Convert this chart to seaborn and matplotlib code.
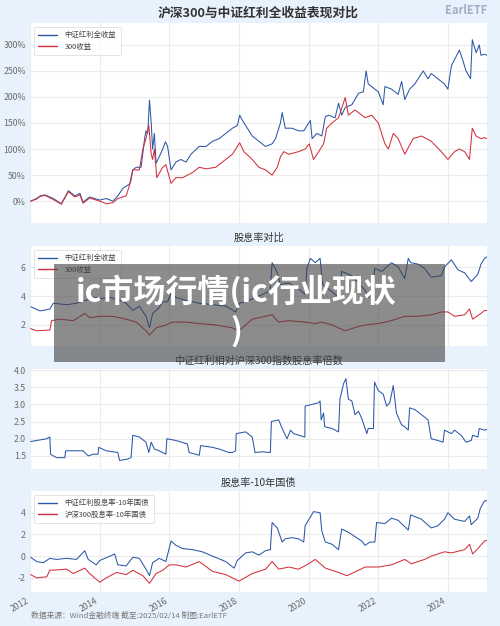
import numpy as np
import pandas as pd
import matplotlib
matplotlib.use("Agg")
import matplotlib.pyplot as plt
import matplotlib.dates as mdates
from matplotlib.ticker import FuncFormatter, FixedLocator
import seaborn as sns

# ---------------- data (decimal years) ----------------
# Panel 1: cumulative return (%)
t_tr_div = [2012.02, 2012.19, 2012.29, 2012.43, 2012.67, 2012.90, 2013.10, 2013.29, 2013.43, 2013.52,
            2013.71, 2014.00, 2014.19, 2014.38, 2014.52, 2014.67, 2014.86, 2014.95, 2015.05, 2015.19,
            2015.29, 2015.33, 2015.38, 2015.43, 2015.48, 2015.52, 2015.57, 2015.62, 2015.71, 2015.81,
            2015.89, 2015.95, 2016.05, 2016.19, 2016.33, 2016.48, 2016.62, 2016.86, 2017.05, 2017.24,
            2017.43, 2017.62, 2017.81, 2017.95, 2018.02, 2018.10, 2018.24, 2018.38, 2018.57, 2018.76,
            2018.95, 2019.05, 2019.19, 2019.24, 2019.33, 2019.52, 2019.71, 2019.86, 2020.05, 2020.10,
            2020.24, 2020.38, 2020.48, 2020.57, 2020.76, 2020.86, 2020.95, 2021.05, 2021.24, 2021.43,
            2021.57, 2021.65, 2021.71, 2021.90, 2022.00, 2022.14, 2022.19, 2022.38, 2022.57, 2022.67,
            2022.76, 2022.90, 2023.05, 2023.29, 2023.43, 2023.52, 2023.71, 2023.90, 2024.00, 2024.10,
            2024.33, 2024.43, 2024.52, 2024.65, 2024.70, 2024.81, 2024.90, 2024.95, 2025.05, 2025.12]
v_tr_div = [0, 5, 10, 12, 5, -5, 20, 10, 15, -2,
            8, 2, 5, 0, 10, 25, 33, 60, 65, 65,
            120, 135, 130, 194, 150, 100, 130, 73, 85, 100,
            114, 105, 60, 75, 80, 75, 90, 105, 105, 115,
            120, 130, 140, 145, 165, 155, 140, 125, 115, 105,
            110, 120, 150, 170, 140, 140, 135, 135, 155, 120,
            130, 125, 162, 165, 160, 188, 165, 180, 185, 207,
            210, 250, 225, 215, 210, 185, 220, 215, 205, 230,
            195, 215, 225, 250, 235, 245, 235, 225, 215, 260,
            290, 270, 250, 235, 310, 285, 300, 280, 282, 280]

t_tr_300 = [2012.02, 2012.19, 2012.29, 2012.43, 2012.67, 2012.90, 2013.10, 2013.29, 2013.43, 2013.52,
            2013.71, 2014.00, 2014.19, 2014.38, 2014.52, 2014.76, 2014.90, 2014.95, 2015.14, 2015.24,
            2015.33, 2015.41, 2015.48, 2015.52, 2015.57, 2015.64, 2015.81, 2015.90, 2016.05, 2016.19,
            2016.38, 2016.67, 2016.86, 2017.05, 2017.33, 2017.62, 2017.81, 2018.02, 2018.14, 2018.38,
            2018.57, 2018.76, 2018.95, 2019.10, 2019.19, 2019.29, 2019.43, 2019.71, 2019.90, 2020.02,
            2020.14, 2020.29, 2020.43, 2020.52, 2020.67, 2020.86, 2021.05, 2021.14, 2021.33, 2021.43,
            2021.62, 2021.81, 2022.00, 2022.19, 2022.29, 2022.43, 2022.57, 2022.76, 2023.00, 2023.24,
            2023.52, 2023.81, 2024.00, 2024.19, 2024.33, 2024.48, 2024.62, 2024.70, 2024.81, 2024.95,
            2025.05, 2025.12]
v_tr_300 = [0, 4, 9, 11, 3, -6, 18, 8, 12, -4,
            6, 0, -5, -3, 5, 10, 40, 60, 60, 100,
            120, 146, 90, 80, 100, 45, 65, 70, 34, 45,
            45, 55, 65, 62, 65, 80, 90, 112, 95, 80,
            65, 60, 50, 65, 85, 95, 90, 95, 100, 110,
            80, 95, 110, 140, 150, 160, 199, 165, 175, 170,
            160, 165, 150, 110, 100, 130, 120, 90, 120, 125,
            115, 95, 80, 95, 100, 95, 80, 140, 125, 120,
            122, 120]

# Panel 2: dividend yield (%)
t_dy_div = [2012.02, 2012.29, 2012.57, 2012.67, 2013.05, 2013.33, 2013.62, 2013.90, 2014.00, 2014.29,
            2014.57, 2014.76, 2014.95, 2015.14, 2015.33, 2015.43, 2015.52, 2015.71, 2015.81, 2015.95,
            2016.05, 2016.19, 2016.48, 2016.86, 2017.24, 2017.62, 2017.90, 2018.02, 2018.29, 2018.57,
            2018.76, 2018.90, 2018.95, 2019.10, 2019.19, 2019.43, 2019.71, 2019.90, 2019.95, 2020.05,
            2020.19, 2020.33, 2020.40, 2020.67, 2020.86, 2020.95, 2021.24, 2021.43, 2021.62, 2021.71,
            2021.81, 2021.90, 2022.10, 2022.38, 2022.57, 2022.76, 2022.86, 2022.93, 2023.14, 2023.33,
            2023.52, 2023.81, 2023.90, 2024.10, 2024.29, 2024.48, 2024.67, 2024.86, 2024.95, 2025.05,
            2025.12]
v_dy_div = [3.26, 2.97, 3.1, 3.5, 3.4, 3.5, 3.72, 3.9, 3.8, 3.9,
            3.7, 3.5, 3.0, 3.3, 2.6, 1.8, 2.8, 3.2, 3.6, 3.6,
            4.2, 3.9, 3.7, 3.5, 3.4, 3.3, 2.9, 3.5, 3.7, 4.0,
            4.2, 4.4, 6.3, 5.6, 4.8, 4.9, 4.5, 4.1, 5.9, 6.6,
            6.3, 6.6, 4.8, 4.3, 3.9, 5.7, 5.4, 4.9, 4.4, 3.9,
            4.2, 5.9, 5.7, 6.3, 6.0, 5.2, 6.6, 6.3, 6.2, 5.9,
            5.3, 5.4, 6.0, 6.5, 5.8, 5.6, 5.0, 5.5, 6.2, 6.6,
            6.7]

t_dy_300 = [2012.02, 2012.19, 2012.57, 2012.62, 2012.86, 2013.24, 2013.57, 2013.71, 2014.00, 2014.38,
            2014.76, 2015.05, 2015.33, 2015.43, 2015.62, 2015.90, 2016.10, 2016.48, 2016.86, 2017.33,
            2017.81, 2018.00, 2018.38, 2018.76, 2018.95, 2019.14, 2019.43, 2019.90, 2020.19, 2020.38,
            2020.67, 2021.05, 2021.43, 2021.62, 2022.00, 2022.38, 2022.76, 2023.14, 2023.52, 2023.81,
            2024.00, 2024.19, 2024.48, 2024.62, 2024.71, 2024.95, 2025.05, 2025.12]
v_dy_300 = [1.75, 1.6, 1.65, 2.3, 2.4, 2.3, 2.8, 2.5, 2.6, 2.6,
            2.4, 2.2, 1.6, 1.3, 1.8, 2.0, 2.2, 2.2, 2.1, 2.0,
            1.8, 1.6, 2.4, 2.6, 2.7, 2.2, 2.3, 2.2, 2.1, 2.2,
            2.0, 1.6, 1.9, 2.0, 2.1, 2.3, 2.6, 2.6, 2.7, 2.9,
            2.9, 2.6, 2.7, 3.1, 2.4, 2.8, 3.0, 3.0]

# Panel 3: relative dividend yield multiple
t_ratio = [2012.02, 2012.48, 2012.57, 2012.59, 2012.76, 2013.00, 2013.02, 2013.24, 2013.52, 2013.67,
           2013.81, 2013.95, 2013.97, 2014.19, 2014.52, 2014.57, 2014.76, 2014.90, 2014.95, 2015.14,
           2015.33, 2015.41, 2015.48, 2015.57, 2015.71, 2015.90, 2015.93, 2016.19, 2016.52, 2016.57,
           2016.86, 2016.90, 2017.24, 2017.43, 2017.71, 2017.81, 2017.90, 2017.92, 2018.19, 2018.38,
           2018.46, 2018.67, 2018.90, 2018.93, 2019.14, 2019.24, 2019.38, 2019.48, 2019.57, 2019.89,
           2019.90, 2020.10, 2020.29, 2020.33, 2020.36, 2020.43, 2020.46, 2020.67, 2020.86, 2020.90,
           2021.00, 2021.07, 2021.14, 2021.24, 2021.33, 2021.43, 2021.52, 2021.62, 2021.67, 2021.71,
           2021.86, 2021.89, 2022.00, 2022.14, 2022.24, 2022.33, 2022.43, 2022.48, 2022.52, 2022.67,
           2022.76, 2022.86, 2022.90, 2023.05, 2023.24, 2023.43, 2023.52, 2023.71, 2023.86, 2023.90,
           2024.10, 2024.19, 2024.38, 2024.52, 2024.67, 2024.71, 2024.86, 2024.90, 2025.05, 2025.12]
v_ratio = [1.92, 2.0, 2.05, 1.55, 1.45, 1.45, 1.65, 1.65, 1.65, 1.5,
           1.55, 1.55, 1.75, 1.65, 1.6, 1.37, 1.4, 1.45, 2.1, 2.05,
           1.9, 1.6, 1.9, 1.7, 1.65, 1.55, 2.0, 1.95, 1.85, 1.6,
           1.52, 1.8, 1.75, 1.7, 1.6, 1.6, 1.65, 2.15, 2.2, 2.05,
           1.6, 1.62, 1.6, 2.5, 2.55, 2.3, 2.0, 2.25, 2.15, 2.05,
           2.95, 3.0, 3.05, 3.1, 2.55, 2.75, 2.35, 2.3, 2.2, 3.15,
           3.6, 3.75, 3.15, 3.1, 2.7, 2.8, 2.6, 2.3, 2.15, 2.3,
           2.3, 3.65, 3.4, 3.3, 2.95, 3.05, 3.55, 3.1, 2.75, 2.4,
           2.35, 2.25, 2.9, 2.85, 2.7, 2.55, 2.0, 1.95, 1.9, 2.25,
           2.15, 2.25, 2.1, 1.9, 1.95, 2.1, 2.05, 2.3, 2.25, 2.27]

# Panel 4: dividend yield minus 10y government bond yield
t_sp_div = [2012.02, 2012.19, 2012.38, 2012.57, 2012.76, 2013.05, 2013.33, 2013.57, 2013.67, 2013.90,
            2014.00, 2014.29, 2014.43, 2014.52, 2014.76, 2014.95, 2015.14, 2015.33, 2015.43, 2015.52,
            2015.71, 2015.90, 2016.05, 2016.19, 2016.38, 2016.67, 2016.95, 2017.24, 2017.62, 2017.86,
            2017.95, 2018.19, 2018.38, 2018.57, 2018.76, 2018.90, 2018.95, 2019.10, 2019.24, 2019.33,
            2019.52, 2019.71, 2019.86, 2019.90, 2020.05, 2020.14, 2020.33, 2020.38, 2020.48, 2020.67,
            2020.86, 2020.95, 2021.14, 2021.33, 2021.52, 2021.62, 2021.76, 2021.90, 2021.95, 2022.19,
            2022.38, 2022.57, 2022.86, 2022.93, 2023.24, 2023.52, 2023.71, 2023.90, 2024.00, 2024.19,
            2024.48, 2024.62, 2024.67, 2024.86, 2024.93, 2025.05, 2025.12]
v_sp_div = [-0.1, -0.5, -0.6, -0.2, -0.3, -0.2, -0.3, 0.5, -0.3, -0.8,
            -0.4, 0.0, 0.2, -0.8, -0.9, -0.1, -0.2, -1.2, -1.8, -0.6,
            -0.2, -0.5, 1.4, 1.0, 0.7, 0.6, 0.4, 0.0, -0.5, -1.1,
            -0.4, 0.3, 0.4, 0.1, 0.5, 0.6, 3.1, 2.6, 1.3, 1.6,
            1.7, 1.6, 1.3, 2.8, 3.6, 4.1, 4.0, 2.3, 1.3, 1.1,
            0.6, 2.5, 2.2, 1.8, 1.4, 1.0, 1.3, 1.3, 3.1, 3.0,
            3.5, 3.3, 2.4, 3.8, 3.4, 2.6, 2.8, 3.4, 4.0, 3.4,
            3.2, 3.7, 2.9, 3.5, 4.4, 5.1, 5.1]

t_sp_300 = [2012.02, 2012.19, 2012.48, 2012.57, 2013.05, 2013.24, 2013.57, 2013.71, 2014.00, 2014.19,
            2014.48, 2014.76, 2014.95, 2015.24, 2015.43, 2015.62, 2015.81, 2016.00, 2016.19, 2016.48,
            2016.86, 2017.24, 2017.62, 2018.00, 2018.38, 2018.76, 2018.95, 2019.14, 2019.43, 2019.71,
            2020.00, 2020.19, 2020.48, 2020.86, 2021.10, 2021.43, 2021.62, 2022.00, 2022.38, 2022.76,
            2022.95, 2023.33, 2023.52, 2023.90, 2024.10, 2024.48, 2024.62, 2024.71, 2024.86, 2025.05,
            2025.12]
v_sp_300 = [-1.7, -2.0, -1.9, -1.3, -1.2, -1.6, -1.1, -1.6, -2.4, -2.0,
            -1.5, -1.7, -1.3, -1.8, -2.5, -1.6, -1.3, -0.8, -0.8, -1.0,
            -0.5, -1.4, -1.7, -2.3, -1.6, -1.2, -0.5, -1.2, -1.0, -1.2,
            -0.7, -0.3, -1.1, -1.5, -1.8, -1.3, -1.0, -1.0, -0.8, -0.3,
            -0.7, -0.3, 0.0, 0.4, 0.3, 0.6, 1.1, 0.2, 0.7, 1.4,
            1.45]

# labels
main_title = "沪深300与中证红利全收益表现对比"
titles = [None, "股息率对比", "中证红利相对沪深300指数股息率倍数", "股息率-10年国债"]
labels_p1 = ["中证红利全收益", "300收益"]
labels_p2 = ["中证红利全收益", "300收益"]
labels_p4 = ["中证红利股息率-10年国债", "沪深300股息率-10年国债"]
year_ticks = [2012, 2014, 2016, 2018, 2020, 2022, 2024]
footer = "数据来源：Wind金融终端 截至:2025/02/14 制图:EarlETF"
watermark = "ic市场行情(ic行业现状\n)"
logo_text = "EarlETF"
x_start, x_end = "2012-01-01", "2025-02-14"


def to_dates(years):
    years = np.asarray(years, dtype=float)
    base = pd.to_datetime([f"{int(np.floor(y))}-01-01" for y in years])
    return base + pd.to_timedelta((years - np.floor(years)) * 365.25, unit="D")


def frame(t, v, label):
    return pd.DataFrame({"date": to_dates(t), "value": v, "series": label})


# ---------------- style ----------------
sns.set_theme(style="whitegrid")
plt.rcParams["font.family"] = ["Noto Sans CJK SC", "DejaVu Sans"]
plt.rcParams["axes.unicode_minus"] = False

BG = "#e8f2fc"
BLUE = "#2b57a7"
RED = "#d3303b"
GRID = "#ececec"
TICK = "#6b6b6b"

fig = plt.figure(figsize=(5.0, 6.26), dpi=100, facecolor=BG)

W, H = 500, 626
def ax_rect(left, top, right, bottom):
    return [left / W, 1 - bottom / H, (right - left) / W, (bottom - top) / H]

ax1 = fig.add_axes(ax_rect(30, 23, 487, 223))
ax2 = fig.add_axes(ax_rect(30, 246, 487, 346), sharex=ax1)
ax3 = fig.add_axes(ax_rect(30, 369, 487, 469), sharex=ax1)
ax4 = fig.add_axes(ax_rect(30, 491, 487, 592), sharex=ax1)
axes = [ax1, ax2, ax3, ax4]

lw = 0.75
d1 = pd.concat([frame(t_tr_div, v_tr_div, labels_p1[0]), frame(t_tr_300, v_tr_300, labels_p1[1])])
sns.lineplot(data=d1, x="date", y="value", hue="series", palette=[BLUE, RED], lw=lw, ax=ax1)
d2 = pd.concat([frame(t_dy_div, v_dy_div, labels_p2[0]), frame(t_dy_300, v_dy_300, labels_p2[1])])
sns.lineplot(data=d2, x="date", y="value", hue="series", palette=[BLUE, RED], lw=lw, ax=ax2)
d3 = frame(t_ratio, v_ratio, "ratio")
sns.lineplot(data=d3, x="date", y="value", color=BLUE, lw=lw, ax=ax3)
d4 = pd.concat([frame(t_sp_div, v_sp_div, labels_p4[0]), frame(t_sp_300, v_sp_300, labels_p4[1])])
sns.lineplot(data=d4, x="date", y="value", hue="series", palette=[BLUE, RED], lw=lw, ax=ax4)

ax1.set_ylim(-42, 342)
ax1.yaxis.set_major_locator(FixedLocator([0, 50, 100, 150, 200, 250, 300]))
ax1.yaxis.set_major_formatter(FuncFormatter(lambda v, p: f"{v:.0f}%"))
ax2.set_ylim(0.55, 7.45)
ax2.yaxis.set_major_locator(FixedLocator([2, 4, 6]))
ax3.set_ylim(1.12, 4.03)
ax3.yaxis.set_major_locator(FixedLocator([1.5, 2.0, 2.5, 3.0, 3.5, 4.0]))
ax3.yaxis.set_major_formatter(FuncFormatter(lambda v, p: f"{v:.1f}"))
ax4.set_ylim(-3.3, 6.0)
ax4.yaxis.set_major_locator(FixedLocator([-2, 0, 2, 4]))

ax1.set_xlim(pd.Timestamp(x_start), pd.Timestamp(x_end))
ax4.xaxis.set_major_locator(FixedLocator([mdates.date2num(pd.Timestamp(f"{y}-01-01")) for y in year_ticks]))
ax4.xaxis.set_major_formatter(mdates.DateFormatter("%Y"))

for i, ax in enumerate(axes):
    ax.set_facecolor("white")
    for s in ax.spines.values():
        s.set_visible(False)
    ax.grid(True, color=GRID, lw=0.8)
    ax.set_xlabel("")
    ax.set_ylabel("")
    ax.tick_params(axis="both", labelsize=6.3, colors=TICK, length=0, pad=3)
    if i < 3:
        ax.tick_params(axis="x", labelbottom=False)
    if titles[i]:
        ax.set_title(titles[i], fontsize=7.3, color="#333333", pad=4)

for lab in ax4.get_xticklabels():
    lab.set_rotation(30)
    lab.set_ha("right")

def style_legend(ax, labels):
    handles, _ = ax.get_legend_handles_labels()
    leg = ax.legend(handles, labels, loc="upper left", fontsize=5.3, frameon=True,
                    handlelength=2.6, borderpad=0.6, labelspacing=0.5, handletextpad=1.0,
                    bbox_to_anchor=(0.0, 1.0))
    leg.get_frame().set_edgecolor("#d8d8d8")
    leg.get_frame().set_linewidth(0.6)
    for t in leg.get_texts():
        t.set_color("#444444")
    for l in leg.get_lines():
        l.set_linewidth(1.0)

style_legend(ax1, labels_p1)
style_legend(ax2, labels_p2)
if ax3.get_legend():
    ax3.get_legend().remove()
style_legend(ax4, labels_p4)

fig.text(258 / W, 1 - 13 / H, main_title, ha="center", va="center", fontsize=9.2,
         fontweight="bold", color="#333333")
fig.text(0.975, 1 - 11 / H, logo_text, ha="right", va="center", fontsize=8,
         color="#9fb0c4", fontweight="bold")
fig.text(31 / W, 1 - 616 / H, footer, ha="left", va="center", fontsize=5.6, color="#777777")

# watermark overlay
fig.patches.append(plt.Rectangle((54 / W, 1 - 362 / H), (445 - 54) / W, (362 - 264) / H,
                                 transform=fig.transFigure, facecolor="#404040", alpha=0.6,
                                 edgecolor="none", zorder=10))
fig.text(236 / W, 1 - 311 / H, watermark, ha="center", va="center", multialignment="center",
         fontsize=23, fontweight="bold", color="white", zorder=11, linespacing=1.25)

fig.savefig("out.png", dpi=100, facecolor=BG)
